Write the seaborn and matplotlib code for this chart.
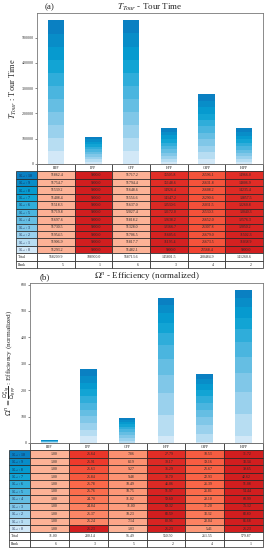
import numpy as np
import matplotlib
matplotlib.use("Agg")
import matplotlib.pyplot as plt
import seaborn as sns
from matplotlib.colors import LinearSegmentedColormap

methods = ["RPP", "LPP", "GPP", "HPP", "GIPP", "HIPP"]
agent_counts = [10, 9, 8, 7, 6, 5, 4, 3, 2, 1, 0]

# (a) Tour time, rows N_agt:10 ... N_agt:0
tour_rpp = [51862.4, 51754.7, 51539.2, 51408.4, 51518.3, 51719.8, 51697.6, 51730.5, 51954.5, 51906.9, 51293.2]
tour_lpp = [9900.0] * 11
tour_gpp = [51717.2, 51794.4, 51648.6, 51556.6, 51637.0, 52027.4, 51818.2, 51328.0, 51706.5, 51817.7, 51482.1]
tour_hpp = [15505.8, 15148.6, 14926.4, 14147.2, 13530.6, 13172.0, 12638.2, 12166.7, 11605.6, 11195.4, 9900.0]
tour_gipp = [25596.1, 25631.8, 25608.2, 25290.6, 25031.5, 25530.3, 25652.0, 25307.8, 25679.0, 25673.5, 21568.4]
tour_hipp = [14966.0, 14806.9, 14235.4, 13857.5, 13260.8, 13040.3, 12576.3, 12050.2, 11502.3, 11038.9, 9900.0]
tour_total = ["568209.9", "108900.0", "568713.6", "145801.5", "280484.9", "141260.6"]
tour_rank = [5, 1, 6, 3, 4, 2]

# (b) Efficiency (normalized)
eff_rpp = [1.00] * 11
eff_lpp = [25.64, 25.91, 25.63, 25.84, 25.78, 25.76, 24.70, 24.84, 25.37, 25.24, 25.23]
eff_gpp = [7.86, 8.19, 9.27, 9.48, 10.49, 10.75, 11.02, 11.00, 10.23, 7.14, 1.03]
eff_hpp = [27.79, 30.17, 36.29, 38.70, 46.06, 51.97, 59.60, 69.32, 83.59, 80.96, 25.23]
eff_gipp = [18.53, 19.16, 21.67, 22.93, 26.39, 26.81, 28.10, 31.20, 33.32, 28.04, 5.41]
eff_hipp = [31.72, 33.34, 39.65, 42.62, 51.08, 54.44, 60.99, 71.12, 83.80, 85.68, 25.23]
eff_total = ["11.00", "280.14", "96.49", "550.50", "261.55", "579.87"]
eff_rank = [6, 3, 5, 2, 4, 1]

sns.set_style("white")
plt.rcParams["font.family"] = ["Liberation Serif", "DejaVu Sans"]
plt.rcParams["mathtext.fontset"] = "stix"

blue_cmap = LinearSegmentedColormap.from_list(
    "bl", ["#d2e8f7", "#8ccbea", "#4bb5df", "#05a0d2", "#0a80c2"])
blues = [blue_cmap(i / 10) for i in range(11)]  # index = agent count
reds = plt.get_cmap("Reds")

fig = plt.figure(figsize=(2.75, 5.5), dpi=100)
W, H = 275, 550


def panel(ax_box, cols, totals, ranks, fmt, lower_better, ylim, ylabel, title,
          math_font, label_x0, panel_label, plab_xy, title_pad, ylab_size):
    ax = fig.add_axes(ax_box)
    data = np.array(cols).T  # rows: agents 10..0, cols: methods
    bottom_up = data[::-1]   # agents 0..10
    cum = np.cumsum(bottom_up, axis=0)
    for k in range(10, -1, -1):
        sns.barplot(x=methods, y=cum[k], color=blues[k], saturation=1,
                    width=0.43, linewidth=0, ax=ax)
    ax.set_ylim(*ylim)
    ax.set_xlim(-0.5, 5.5)
    ax.set_xticks([])
    ax.set_xlabel("")
    ax.ticklabel_format(axis="y", style="plain", useOffset=False)
    ax.tick_params(axis="y", labelsize=3, length=1.5, width=0.4, pad=1,
                   left=True, colors="#333333")
    for s in ax.spines.values():
        s.set_linewidth(0.6)
        s.set_color("#777777")
    ax.set_ylabel(ylabel, fontsize=ylab_size, labelpad=1.5, math_fontfamily=math_font)
    ax.set_title(title, fontsize=6.5, pad=title_pad)
    fig.text(plab_xy[0] / W, 1 - plab_xy[1] / H, panel_label, fontsize=6.5,
             ha="center", va="center")

    # table
    cell_text, cell_col = [], []
    for i, a in enumerate(agent_counts):
        row = data[i]
        mn, mx = row.min(), row.max()
        rng = mx - mn if mx > mn else 1
        t = (mx - row) / rng if lower_better else (row - mn) / rng
        cell_text.append([r"$N_{agt}$ : %d" % a] + [fmt % v for v in row])
        cell_col.append([blues[a]] + [reds(0.28 + 0.45 * tt) for tt in t])
    cell_text.append(["Total"] + list(totals))
    cell_col.append(["white"] * 7)
    cell_text.append(["Rank"] + [str(r) for r in ranks])
    cell_col.append(["white"] * 7)

    axw_px = ax_box[2] * W
    axh_px = ax_box[3] * H
    lab_w = (ax_box[0] * W - label_x0) / axw_px
    ntab_h = 14 * 7.45 / axh_px
    tab = ax.table(cellText=cell_text, cellColours=cell_col,
                   colLabels=[""] + methods,
                   colWidths=[lab_w] + [1 / 6] * 6,
                   bbox=[-lab_w, -ntab_h, 1 + lab_w, ntab_h],
                   cellLoc="right")
    tab.auto_set_font_size(False)
    tab.set_fontsize(2.8)
    for (r, c), cell in tab.get_celld().items():
        cell.set_linewidth(0.5)
        cell.set_edgecolor("#222222")
        if r == 0:
            cell.get_text().set_ha("center")
            cell.set_facecolor("white")
            if c == 0:
                cell.set_visible(False)
        elif c == 0:
            cell.PAD = 0.08
            cell.get_text().set_ha("left")
            if r <= 11:
                cell.get_text().set_color("#15204a")
        else:
            cell.PAD = 0.3
    return ax


panel([37 / W, 1 - 164 / H, 226 / W, 151 / H],
      [tour_rpp, tour_lpp, tour_gpp, tour_hpp, tour_gipp, tour_hipp],
      tour_total, tour_rank, "%.1f", True, (0, 598000),
      r"$T_{Tour}$ : Tour Time", r"$T_{Tour}$ - Tour Time", "stix",
      16, "(a)", (50, 7), 2, 6)

panel([30 / W, 1 - 443 / H, 233 / W, 160 / H],
      [eff_rpp, eff_lpp, eff_gpp, eff_hpp, eff_gipp, eff_hipp],
      eff_total, eff_rank, "%.2f", False, (0, 606),
      r"$\Omega^n = \frac{\Omega^n_{alg}}{\Omega_{RPP}}$ : Efficiency (normalized)",
      r"$\Omega^n$ - Efficiency (normalized)", "dejavusans",
      9, "(b)", (45, 277), 3, 5.2)

fig.savefig("out.png", dpi=100)
